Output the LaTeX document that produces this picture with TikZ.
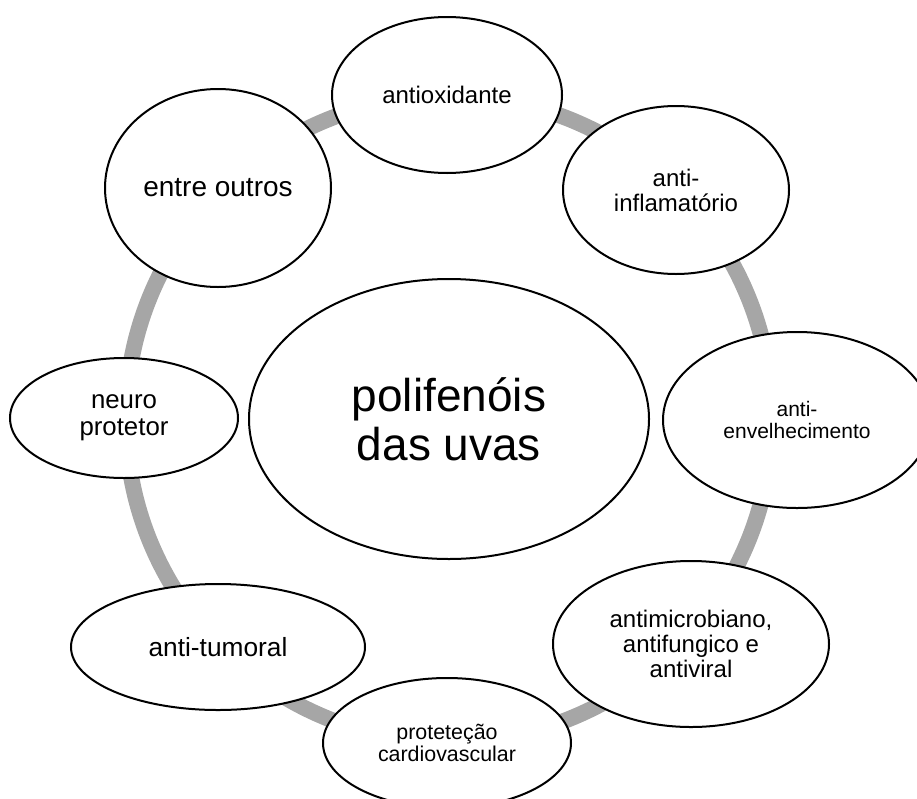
\documentclass[tikz,border=0pt]{standalone}
\usepackage{fontspec}
\setmainfont{Liberation Sans}
\usetikzlibrary{shapes.geometric,backgrounds}
\definecolor{cinza}{RGB}{166,166,166}

\begin{document}
\begin{tikzpicture}[x=1pt,y=-1pt,
  bolha/.style={ellipse,draw=black,line width=2pt,fill=white,inner sep=0pt,align=center},
  anel/.style={draw=cinza,line width=16pt}]
\useasboundingbox (0,0) rectangle (917,798);

\node[bolha,minimum width=400pt,minimum height=280pt,font=\fontsize{46}{49}\selectfont] (polifenois) at (449,419) {polifenóis\\das uvas};

\node[bolha,minimum width=230pt,minimum height=156pt,font=\fontsize{24}{25}\selectfont] (antiox) at (447,95) {antioxidante};
\node[bolha,minimum width=226pt,minimum height=168pt,font=\fontsize{24}{25}\selectfont] (inflam) at (676,190) {anti-\\inflamatório};
\node[bolha,minimum width=268pt,minimum height=176pt,font=\fontsize{21}{21.7}\selectfont] (envelhec) at (797,420) {anti-\\envelhecimento};
\node[bolha,minimum width=276pt,minimum height=166pt,font=\fontsize{24}{24.7}\selectfont] (antimicro) at (691,644) {antimicrobiano,\\antifungico e\\antiviral};
\node[bolha,minimum width=248pt,minimum height=130pt,font=\fontsize{21.4}{22.3}\selectfont] (cardio) at (447,743) {proteteção\\cardiovascular};
\node[bolha,minimum width=294pt,minimum height=126pt,font=\fontsize{26.3}{27}\selectfont] (tumoral) at (218,647) {anti-tumoral};
\node[bolha,minimum width=228pt,minimum height=120pt,font=\fontsize{25.8}{27.3}\selectfont] (neuro) at (124,418) {neuro\\protetor};
\node[bolha,minimum width=226pt,minimum height=198pt,font=\fontsize{28}{29}\selectfont] (outros) at (218,188) {entre outros};

\begin{scope}[on background layer]
\draw[anel] (polifenois.center) circle[radius=323];
\end{scope}
\end{tikzpicture}
\end{document}
